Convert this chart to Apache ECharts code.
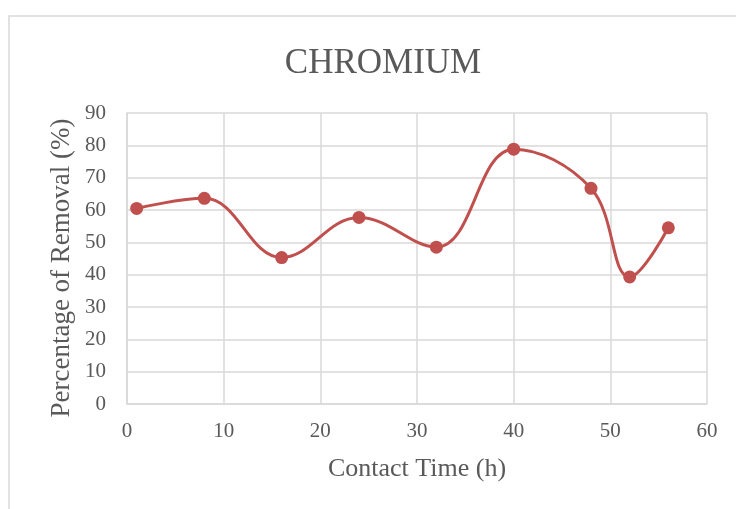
<!DOCTYPE html>
<html><head><meta charset="utf-8">
<script src="https://cdn.jsdelivr.net/npm/echarts@6/dist/echarts.min.js"></script>
<style>html,body{margin:0;padding:0;background:#fff}#c{width:736px;height:509px}</style>
</head><body><div id="c"></div>
<script>
const contactTime = [1, 8, 16, 24, 32, 40, 48, 52, 56];
const removal = [60.5, 63.6, 45.3, 57.7, 48.5, 78.8, 66.7, 39.3, 54.5];
const xTicks = {min: 0, max: 60, interval: 10};
const yTicks = {min: 0, max: 90, interval: 10};
const yTitle = 'Percentage of Removal (%)';

const chart = echarts.init(document.getElementById('c'));
const font = "'Liberation Serif', 'Times New Roman', serif";
chart.setOption({
  animation: false,
  backgroundColor: '#fff',
  graphic: [
    {type: 'rect', shape: {x: 9, y: 16, width: 760, height: 520}, style: {fill: 'none', stroke: '#d9d9d9', lineWidth: 1.5}, silent: true},
    {type: 'text', x: 62, y: 268, rotation: Math.PI / 2,
     style: {text: yTitle, font: "27px 'Liberation Serif', serif", fill: '#595959', align: 'center', verticalAlign: 'middle'}}
  ],
  title: {text: 'CHROMIUM', left: 378, textAlign: 'center', top: 41, textStyle: {fontFamily: font, fontSize: 35, fontWeight: 'normal', color: '#595959'}},
  grid: {left: 127, right: 29, top: 113, bottom: 105, containLabel: false},
  xAxis: {
    type: 'value', min: xTicks.min, max: xTicks.max, interval: xTicks.interval,
    name: 'Contact Time (h)', nameLocation: 'middle', nameGap: 52,
    nameTextStyle: {fontFamily: font, fontSize: 26, color: '#595959'},
    axisLine: {show: true, lineStyle: {color: '#d9d9d9', width: 1.5}},
    axisTick: {show: false},
    axisLabel: {fontFamily: font, fontSize: 21, color: '#595959', margin: 17},
    splitLine: {show: true, lineStyle: {color: '#d9d9d9', width: 1.5}}
  },
  yAxis: {
    type: 'value', min: yTicks.min, max: yTicks.max, interval: yTicks.interval,
    axisLine: {show: true, lineStyle: {color: '#d9d9d9', width: 1.5}},
    axisTick: {show: false},
    axisLabel: {fontFamily: font, fontSize: 21, color: '#595959', margin: 21},
    splitLine: {show: true, lineStyle: {color: '#d9d9d9', width: 1.5}}
  },
  series: [{
    type: 'line', smooth: 0.4,
    data: contactTime.map((t, i) => [t, removal[i]]),
    symbol: 'circle', symbolSize: 13,
    lineStyle: {color: '#c0504d', width: 3},
    itemStyle: {color: '#c0504d'}
  }]
});
</script></body></html>
